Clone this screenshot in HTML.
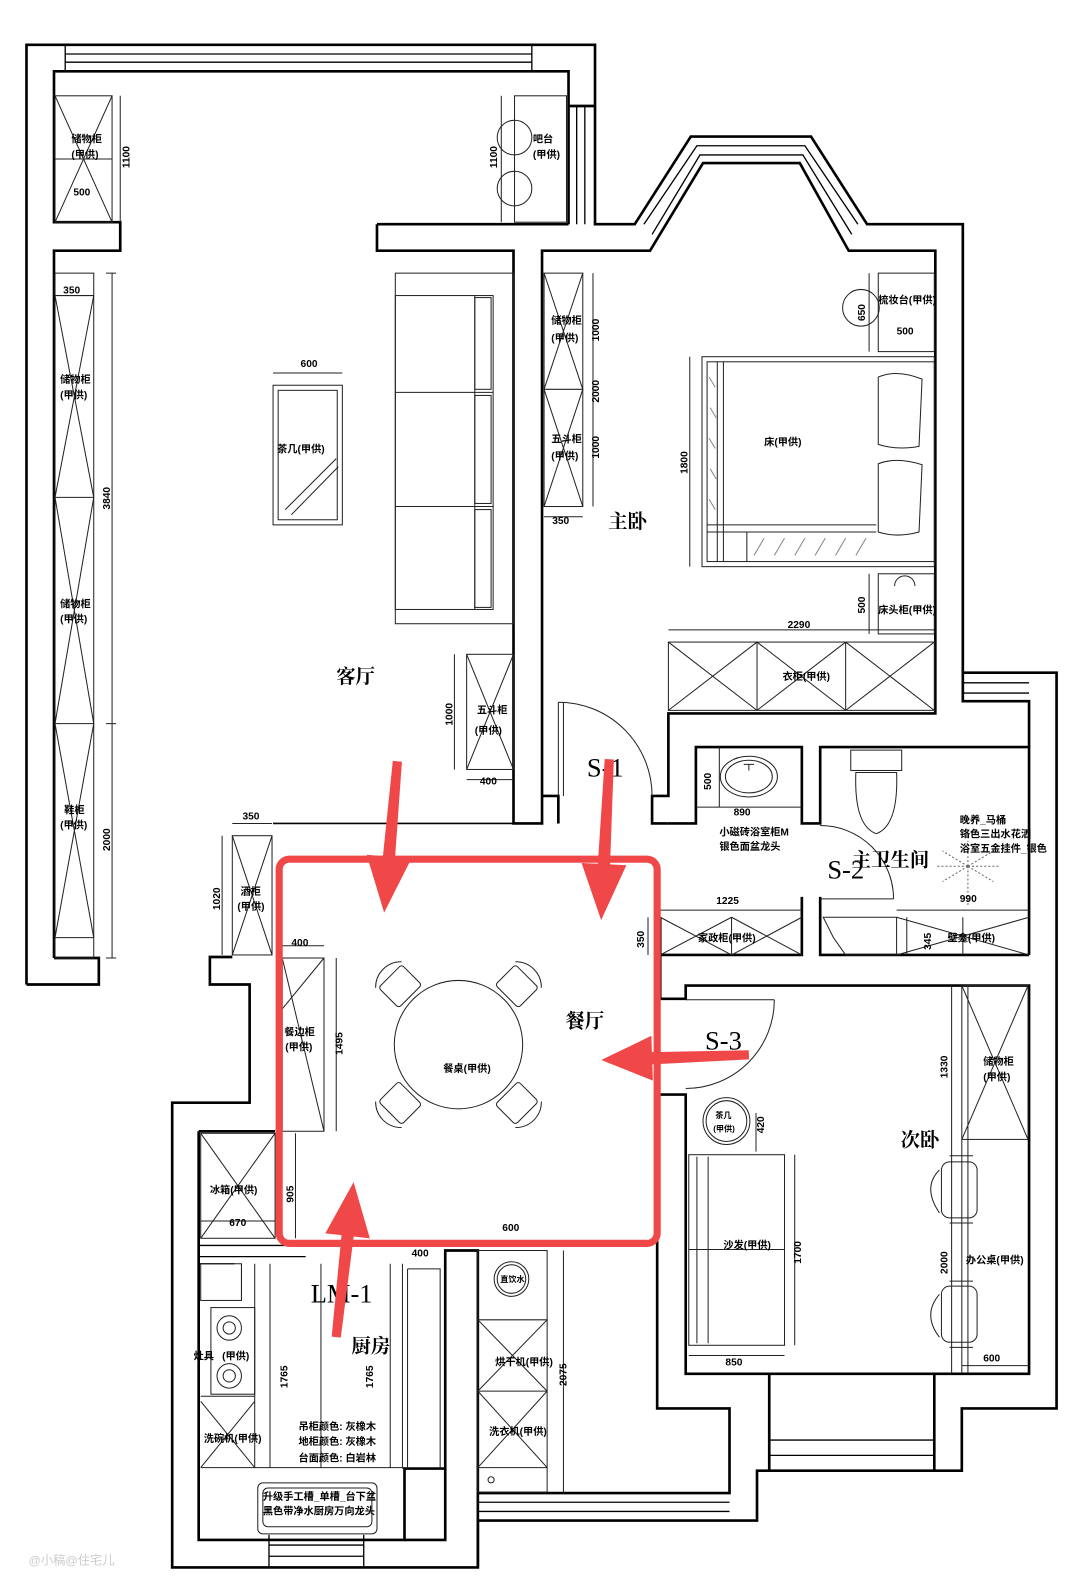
<!DOCTYPE html>
<html><head><meta charset="utf-8"><style>
html,body{margin:0;padding:0;background:#fff;width:1080px;height:1596px;overflow:hidden}
svg{display:block}
text{font-family:"Liberation Sans","Noto Sans CJK SC",sans-serif;font-weight:bold;fill:#000}
.s{font-size:10px}
.d{font-size:11px;font-weight:normal}
.big{font-family:"Liberation Serif","Noto Serif CJK SC",serif;font-size:26px;font-weight:normal}
.rm{font-family:"Liberation Serif","Noto Serif CJK SC",serif;font-size:19px;font-weight:bold}
</style></head><body>
<svg width="1080" height="1596" viewBox="0 0 1060 1566" preserveAspectRatio="none" xmlns="http://www.w3.org/2000/svg">
<rect width="1060" height="1566" fill="#fff"/>
<g fill="none" stroke="#000" stroke-width="2.6" stroke-linejoin="miter">
<!-- outer contour -->
<path d="M26,966 V44 H584 V220 H623 L678,134 H796 L851,220 H945 V660 H1037 V1382 H944 V1443 H743 V1492 H469 V1538 H169 V1082 H245 V966 H206 V939 H228"/>
<path d="M26,966 H97 V940 H53"/>
<!-- inner top/left living -->
<path d="M53,940 V246 H118 V218 H53 V70 H558 V220"/>
<path d="M558,104 H584"/>
<!-- middle wall & partition -->
<path d="M370,220 V246 H504 V808 H532 V246 H638 L690,160 H785 L833,246 H918 V700 H656 V781 H640 V808 H655 V808"/>
<path d="M370,220 H558"/>
<path d="M532,781 H548 V808"/>
<path d="M655,808 H683 V733 H787 V808 H805 V733 H1010"/>
<path d="M945,660 V688 H1010 V937"/>
<path d="M787,880 V937 H648 V900"/>
<path d="M805,880 V937 H1010"/>
<path d="M648,937 V980 H673 V967 H1010 V1348 H673 V1074 H645 V1382 H716 V1465 H469"/>
<path d="M1037,1382"/>
<!-- living bottom line -->
<path d="M268,808 H504" stroke-width="1.6"/>
<!-- kitchen -->
<path d="M195,1110 V1511 H397 V1441 H437 V1227 H469 V1538"/>
<path d="M397,1511 H437 V1441"/>
<path d="M195,1110 H270"/>
<path d="M755,1348 V1443 M917,1348 V1443"/>
</g>
<!-- windows -->
<g fill="none" stroke="#000" stroke-width="1.3">
<path d="M64,44 V70 M522,44 V70 M64,53 H522 M64,61 H522"/>
<path d="M566,104 V220 M574,104 V220"/>
<path d="M632,220 L684,143 H790 L842,220 M640,230 L687,152 H788 L836,230"/>
<path d="M945,670 H1010 M945,680 H1010"/>
<path d="M755,1413 H917 M755,1428 H917"/>
<path d="M264,1506 V1538 M357,1506 V1538 M264,1516 H357 M264,1527 H357"/>
<path d="M469,1474 H716 M469,1483 H716"/>
<path d="M196,1222 H300 M196,1233 H300 M230,1240 H195"/>
</g>
<!-- furniture -->
<g fill="none" stroke="#222" stroke-width="1">
<!-- left cabinets -->
<rect x="54" y="94" width="56" height="124"/><path d="M54,94 L110,218 M110,94 L54,218 M54,156 H110"/>
<rect x="54" y="268" width="38" height="672"/>
<path d="M54,290 H92 M54,488 H92 M54,710 H92 M54,290 L92,488 M92,290 L54,488 M54,488 L92,710 M92,488 L54,710 M54,710 L92,920 M92,710 L54,920 M54,920 H92"/>
<path d="M110,268 V940 M118,94 V218 M104,268 H114 M104,710 H114 M104,940 H114"/>
<!-- bar -->
<rect x="505" y="94" width="51" height="124"/><circle cx="505" cy="135" r="17"/><circle cx="505" cy="185" r="17"/>
<path d="M492,94 V218"/>
<!-- coffee table -->
<rect x="268" y="378" width="68" height="137"/><rect x="273" y="383" width="58" height="127"/>
<path d="M280,500 L330,450 M286,505 L332,458 M268,366 H336"/>
<!-- sofa -->
<rect x="388" y="268" width="116" height="344"/><rect x="388" y="290" width="96" height="308"/>
<path d="M388,385 H484 M388,497 H484 M466,290 V598 M466,385 V385"/>
<rect x="466" y="292" width="16" height="90"/><rect x="466" y="388" width="16" height="106"/><rect x="466" y="500" width="16" height="96"/>
<!-- living 五斗柜 -->
<rect x="458" y="642" width="46" height="113"/><path d="M458,642 L504,755 M504,642 L458,755 M446,642 V755 M458,765 H504"/>
<!-- 酒柜 -->
<rect x="228" y="820" width="39" height="117"/><path d="M228,820 L267,937 M267,820 L228,937 M228,808 H267 M218,820 V937"/>
<!-- bedroom cabinets -->
<rect x="534" y="268" width="38" height="229"/><path d="M534,382 H572 M534,268 L572,382 M572,268 L534,382 M534,382 L572,497 M572,382 L534,497 M582,268 V497 M534,507 H572"/>
<!-- 梳妆台 -->
<rect x="862" y="268" width="55" height="77"/><circle cx="845" cy="302" r="18"/><path d="M853,268 V345"/>
<!-- bed -->
<rect x="689" y="350" width="228" height="206"/><rect x="694" y="355" width="223" height="196"/>
<path d="M704,355 V551 M710,355 V551 M694,515 H860 M694,522 H860 M733,522 V551 M677,350 V556"/>
<path d="M862,370 Q880,362 905,372 L902,438 Q880,442 862,436 Z M862,455 Q880,448 905,456 L902,522 Q880,528 862,522 Z"/>
<path d="M696,370 L702,380 M697,400 L703,410 M696,430 L702,440 M697,460 L703,470 M696,490 L702,500 M740,545 L750,528 M760,545 L770,528 M780,545 L790,528 M800,545 L810,528 M820,545 L830,528 M840,545 L850,528" stroke="#888"/>
<!-- 床头柜 -->
<rect x="862" y="563" width="55" height="59"/><path d="M853,563 V622 M878,575 A10,10 0 0 1 898,575"/>
<!-- wardrobe -->
<rect x="656" y="630" width="261" height="67"/><path d="M743,630 V697 M830,630 V697 M656,630 L743,697 M743,630 L656,697 M743,630 L830,697 M830,630 L743,697 M830,630 L917,697 M917,630 L830,697 M656,618 H917"/>
<!-- S-1 door -->
<path d="M548,689 V781 M548,689 A92,92 0 0 1 640,781 M553,689 V781"/>
<!-- bath1 sink -->
<ellipse cx="735" cy="762" rx="28" ry="20"/><ellipse cx="735" cy="762" rx="23" ry="16"/><path d="M706,733 V792 M683,792 H787 M730,750 H740 M735,750 V756"/>
<!-- cabinet 家政柜 -->
<path d="M648,900 L718,937 M718,900 L648,937 M718,900 L787,937 M787,900 L718,937 M718,900 V937 M648,893 H787 M636,900 V937"/>
<!-- toilet -->
<rect x="835" y="736" width="50" height="20"/><path d="M840,758 Q838,810 860,818 Q882,810 880,758 Z"/>
<!-- S-2 door -->
<path d="M805,810 A72,72 0 0 1 877,882 M805,882 H877"/>
<!-- tub + 壁龛 -->
<path d="M808,900 H880 V937 H830 L818,920 Z M880,900 V937 M880,900 L1010,937 M1010,900 L880,937 M945,900 V937 M880,893 H1010 M890,900 V937"/>
<path d="M950,850 L975,835 M950,850 L980,850 M950,850 L975,865 M950,850 L950,825 M950,850 L925,835 M950,850 L920,850 M950,850 L925,865 M950,850 V890" stroke="#666" stroke-dasharray="2,2"/>
<!-- S-3 door -->
<path d="M673,981 H760 M760,981 A87,87 0 0 1 673,1068"/>
<!-- dining cabinet -->
<rect x="277" y="940" width="41" height="170"/><path d="M277,940 L318,1110 M277,990 L318,940 M330,940 V1110 M277,928 H318"/>
<!-- table -->
<circle cx="450" cy="1025" r="63"/>
<g transform="translate(450,1025)">
<g transform="rotate(-45)"><rect x="-16" y="-95" width="32" height="28" rx="3"/><path d="M-18,-97 A25,25 0 0 1 18,-97"/></g>
<g transform="rotate(45)"><rect x="-16" y="-95" width="32" height="28" rx="3"/><path d="M-18,-97 A25,25 0 0 1 18,-97"/></g>
<g transform="rotate(135)"><rect x="-16" y="-95" width="32" height="28" rx="3"/><path d="M-18,-97 A25,25 0 0 1 18,-97"/></g>
<g transform="rotate(-135)"><rect x="-16" y="-95" width="32" height="28" rx="3"/><path d="M-18,-97 A25,25 0 0 1 18,-97"/></g>
</g>
<!-- fridge -->
<rect x="197" y="1112" width="73" height="103"/><path d="M197,1112 L270,1215 M270,1112 L197,1215 M290,1112 V1215 M197,1198 H270"/>
<!-- kitchen counters -->
<rect x="197" y="1240" width="40" height="36"/>
<path d="M237,1240 V1276 M250,1240 V1440 M265,1240 V1440 M197,1370 H250 M197,1440 H397 M197,1375 L250,1440 M250,1375 L197,1440"/>
<rect x="207" y="1283" width="43" height="85"/><circle cx="225" cy="1303" r="12"/><circle cx="225" cy="1303" r="6"/><circle cx="225" cy="1350" r="12"/><circle cx="225" cy="1350" r="6"/>
<rect x="253" y="1455" width="117" height="50" rx="5"/><rect x="258" y="1460" width="107" height="38" rx="5"/>
<path d="M383,1240 V1440 M395,1240 V1441 M400,1245 H432 V1441 M400,1245 V1441 M315,1240 V1440"/>
<!-- laundry -->
<rect x="469" y="1227" width="68" height="237"/><circle cx="502" cy="1255" r="17"/><circle cx="502" cy="1255" r="14"/>
<path d="M469,1295 H537 M469,1365 H537 M469,1440 H537 M469,1295 L537,1365 M537,1295 L469,1365 M469,1365 L537,1440 M537,1365 L469,1440 M553,1227 V1464"/>
<circle cx="482" cy="1452" r="3"/>
<!-- bedroom2 -->
<rect x="944" y="967" width="65" height="151"/><path d="M944,967 L1009,1118 M1009,967 L944,1118 M944,1118 V1348 M950,967 V1348 M934,967 V1348 M944,1340 H1009"/>
<circle cx="713" cy="1100" r="23"/><circle cx="713" cy="1100" r="20"/>
<rect x="676" y="1133" width="94" height="187"/><path d="M676,1226 H770 M684,1135 V1318 M695,1135 V1318 M676,1330 H770 M780,1133 V1320"/>
<rect x="924" y="1140" width="35" height="55" rx="8"/><path d="M922,1148 Q905,1165 922,1190"/>
<rect x="924" y="1262" width="35" height="55" rx="8"/><path d="M922,1270 Q905,1290 922,1312"/>
<path d="M932,1134 H955 M932,1200 H955 M932,1257 H955 M932,1322 H955"/>
<path d="M742,1092 V1130 M676,1133 V1133"/>
</g>
<!-- labels -->
<g class="s">
<text x="70" y="140">储物柜</text><text x="70" y="155">(甲供)</text><text x="72" y="192">500</text>
<text x="523" y="140">吧台</text><text x="523" y="155">(甲供)</text>
<text x="62" y="288">350</text>
<text x="59" y="376">储物柜</text><text x="59" y="391">(甲供)</text>
<text x="59" y="596">储物柜</text><text x="59" y="611">(甲供)</text>
<text x="63" y="798">鞋柜</text><text x="59" y="813">(甲供)</text>
<text x="295" y="360">600</text>
<text x="272" y="444">茶几(甲供)</text>
<text x="468" y="700">五斗柜</text><text x="466" y="720">(甲供)</text>
<text x="471" y="770">400</text>
<text x="238" y="804">350</text>
<text x="236" y="878">酒柜</text><text x="233" y="893">(甲供)</text>
<text x="541" y="318">储物柜</text><text x="541" y="335">(甲供)</text>
<text x="541" y="434">五斗柜</text><text x="541" y="451">(甲供)</text>
<text x="542" y="514">350</text>
<text x="862" y="298">梳妆台(甲供)</text><text x="880" y="328">500</text>
<text x="750" y="437">床(甲供)</text>
<text x="862" y="602">床头柜(甲供)</text>
<text x="773" y="616">2290</text>
<text x="768" y="667">衣柜(甲供)</text>
<text x="720" y="800">890</text>
<text x="706" y="820">小磁砖浴室柜M</text><text x="706" y="834">银色面盆龙头</text>
<text x="703" y="887">1225</text>
<text x="685" y="924">家政柜(甲供)</text>
<text x="942" y="808">晚养_马桶</text><text x="942" y="822">铬色三出水花洒</text><text x="942" y="836">浴室五金挂件_银色</text>
<text x="942" y="885">990</text>
<text x="930" y="924">壁龛(甲供)</text>
<text x="286" y="928">400</text>
<text x="279" y="1016">餐边柜</text><text x="280" y="1031">(甲供)</text>
<text x="435" y="1052">餐桌(甲供)</text>
<text x="206" y="1171">冰箱(甲供)</text><text x="225" y="1203">670</text>
<text x="493" y="1208">600</text>
<text x="404" y="1233">400</text>
<text x="190" y="1334">灶具</text><text x="218" y="1334">(甲供)</text>
<text x="200" y="1415">洗碗机(甲供)</text>
<text x="293" y="1403">吊柜颜色: 灰橡木</text><text x="293" y="1418">地柜颜色: 灰橡木</text><text x="293" y="1434">台面颜色: 白岩林</text>
<text x="258" y="1472">升级手工槽_单槽_台下盆</text><text x="258" y="1486">黑色带净水厨房万向龙头</text>
<text x="491" y="1258" style="font-size:8px">直饮水</text>
<text x="486" y="1340">烘干机(甲供)</text>
<text x="480" y="1408">洗衣机(甲供)</text>
<text x="965" y="1045">储物柜</text><text x="965" y="1060">(甲供)</text>
<text x="702" y="1097" style="font-size:8px">茶几</text><text x="700" y="1110" style="font-size:8px">(甲供)</text>
<text x="710" y="1225">沙发(甲供)</text>
<text x="712" y="1340">850</text>
<text x="948" y="1240">办公桌(甲供)</text>
<text x="965" y="1336">600</text>
</g>
<!-- vertical dims -->
<g class="s">
<text transform="translate(127,165) rotate(-90)">1100</text>
<text transform="translate(488,165) rotate(-90)">1100</text>
<text transform="translate(108,500) rotate(-90)">3840</text>
<text transform="translate(108,835) rotate(-90)">2000</text>
<text transform="translate(444,712) rotate(-90)">1000</text>
<text transform="translate(216,893) rotate(-90)">1020</text>
<text transform="translate(588,335) rotate(-90)">1000</text>
<text transform="translate(588,395) rotate(-90)">2000</text>
<text transform="translate(588,450) rotate(-90)">1000</text>
<text transform="translate(849,315) rotate(-90)">650</text>
<text transform="translate(675,465) rotate(-90)">1800</text>
<text transform="translate(849,602) rotate(-90)">500</text>
<text transform="translate(698,775) rotate(-90)">500</text>
<text transform="translate(632,930) rotate(-90)">350</text>
<text transform="translate(914,932) rotate(-90)">345</text>
<text transform="translate(336,1035) rotate(-90)">1495</text>
<text transform="translate(288,1180) rotate(-90)">905</text>
<text transform="translate(750,1112) rotate(-90)">420</text>
<text transform="translate(930,1058) rotate(-90)">1330</text>
<text transform="translate(786,1240) rotate(-90)">1700</text>
<text transform="translate(930,1250) rotate(-90)">2000</text>
<text transform="translate(282,1362) rotate(-90)">1765</text>
<text transform="translate(366,1362) rotate(-90)">1765</text>
<text transform="translate(556,1360) rotate(-90)">2075</text>
</g>
<text class="rm" x="330" y="670">客厅</text>
<text class="rm" x="597" y="518">主卧</text>
<text class="rm" x="555" y="1008">餐厅</text>
<text class="rm" x="884" y="1125">次卧</text>
<text class="rm" x="345" y="1327">厨房</text>
<text class="rm" x="836" y="850">主卫生间</text>
<text class="big" x="576" y="762">S-1</text>
<text class="big" x="812" y="862">S-2</text>
<text class="big" x="692" y="1030">S-3</text>
<text class="big" x="305" y="1278">LM-1</text>
<text x="28" y="1535" style="font-size:12px;font-weight:normal;fill:#ccc">@小稿@住宅儿</text>
<!-- red overlay -->
<rect x="274" y="843" width="371" height="377" rx="10" fill="none" stroke="#f04848" stroke-width="7"/>
<g fill="#f04848">
<polygon transform="translate(390,747) rotate(5)" points="-4.5,0 4.5,0 6,94 22,94 0,149 -22,94 -6,94"/>
<polygon transform="translate(598,745) rotate(2.9)" points="-4.5,0 4.5,0 6,103 22,103 0,158 -22,103 -6,103"/>
<polygon transform="translate(735,1035) rotate(88)" points="-4.5,0 4.5,0 6,95 22,95 0,145 -22,95 -6,95"/>
<polygon transform="translate(330,1312) rotate(-173.6)" points="-4.5,0 4.5,0 6,100 22,100 0,153 -22,100 -6,100"/>
</g>
</svg>
</body></html>
